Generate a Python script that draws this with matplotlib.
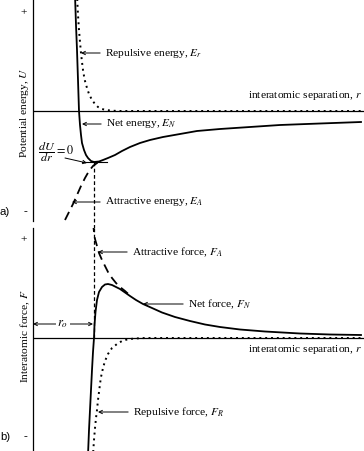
import matplotlib
matplotlib.use("Agg")
import matplotlib.pyplot as plt

plt.rcParams['font.family'] = ['Liberation Serif', 'DejaVu Serif']
plt.rcParams['mathtext.fontset'] = 'stix'

# --- data (arbitrary units) ---
# (a) potential energy vs separation
net_e_r = [4.2, 4.3, 4.4, 4.5, 4.6, 4.7, 4.8, 4.9, 5.1, 5.3, 5.5, 5.8, 6.1, 6.6, 7.0, 7.5, 8.2,
           8.9, 9.7, 10.7, 11.7, 13.0, 14.7, 16.4, 18.7, 21.7, 24.7, 28.7, 32.8]
net_e_u = [11.6, 8.6, 6.1, 3.1, 0.0, -1.4, -2.4, -3.2, -3.9, -4.4, -4.7, -5.0, -5.1, -5.05, -4.9, -4.7, -4.4,
           -4.0, -3.6, -3.2, -2.9, -2.6, -2.3, -2.0, -1.8, -1.6, -1.4, -1.25, -1.1]

rep_e_r = [4.4, 4.5, 4.6, 4.7, 4.8, 4.9, 5.0, 5.1, 5.2, 5.4, 5.6, 5.9, 6.2, 6.5, 6.9, 7.3, 7.9, 8.7, 33.1]
rep_e_u = [11.6, 9.6, 8.1, 6.9, 5.8, 4.9, 4.1, 3.5, 3.0, 2.3, 1.7, 1.1, 0.7, 0.4, 0.2, 0.1, 0.03, 0.0, 0.0]

att_e_r = [3.2, 3.6, 4.0, 4.4, 4.8, 5.2, 5.6, 6.0, 6.4, 6.8]
att_e_u = [-10.9, -10.1, -9.3, -8.4, -7.5, -6.7, -6.0, -5.5, -5.2, -5.05]

# (b) force vs separation
net_f_r = [5.5, 5.6, 5.7, 5.8, 5.9, 6.0, 6.1, 6.15, 6.25, 6.4, 6.6, 6.9, 7.2, 7.5, 7.9, 8.3, 8.7,
           9.2, 9.7, 10.3, 11.0, 11.9, 12.9, 14.2, 15.7, 17.2, 18.7, 20.7, 23.2, 26.7, 29.7, 32.8]
net_f_f = [-11.7, -9.2, -7.2, -5.2, -3.2, -1.4, 0.0, 1.3, 2.6, 3.8, 4.6, 5.1, 5.35, 5.4, 5.3, 5.1, 4.9,
           4.55, 4.2, 3.8, 3.4, 3.0, 2.55, 2.1, 1.7, 1.35, 1.1, 0.85, 0.65, 0.45, 0.35, 0.3]

att_f_r = [6.0, 6.1, 6.2, 6.4, 6.6, 6.9, 7.2, 7.5, 7.9, 8.3, 8.7, 9.2, 9.7]
att_f_f = [11.5, 10.6, 9.9, 9.2, 8.5, 7.8, 7.2, 6.6, 6.0, 5.5, 5.1, 4.7, 4.25]

rep_f_r = [6.0, 6.1, 6.2, 6.3, 6.4, 6.5, 6.6, 6.7, 6.8, 7.0, 7.2, 7.5, 7.9, 8.4, 8.9, 9.5, 10.2, 11.2, 33.1]
rep_f_f = [-11.7, -10.2, -9.0, -8.0, -7.2, -6.2, -5.4, -4.6, -3.9, -3.0, -2.3, -1.6, -1.0, -0.6, -0.3,
           -0.12, -0.05, 0.0, 0.0]

r0 = 6.1
u_min = -5.1

fig = plt.figure(figsize=(3.64, 4.51), dpi=100)
ax1 = fig.add_axes([33 / 364, 230 / 451, 331 / 364, 221 / 451])
ax2 = fig.add_axes([33 / 364, 0, 331 / 364, 223 / 451])

for ax in (ax1, ax2):
    for s in ('top', 'right', 'bottom'):
        ax.spines[s].set_visible(False)
    ax.spines['left'].set_linewidth(0.9)
    ax.set_xticks([])
    ax.set_yticks([])
    ax.set_xlim(0, 33.1)
    ax.axhline(0, color='black', lw=0.9)

ax1.set_ylim(-11.0, 11.1)
ax2.set_ylim(-11.3, 11.0)

fs = 8.2
arr = dict(arrowstyle='->', lw=0.7, color='black', shrinkA=1.5, shrinkB=0, mutation_scale=6)

# ---- a) energy ----
ax1.plot(rep_e_r, rep_e_u, color='black', lw=1.4, ls=(0, (1, 2)))
ax1.plot(att_e_r, att_e_u, color='black', lw=1.3, ls=(0, (5, 3)))
ax1.plot(net_e_r, net_e_u, color='black', lw=1.3)
ax1.plot([4.9, 7.4], [u_min, u_min], color='black', lw=0.8)
ax1.plot([r0, r0], [u_min, -11.7], color='black', lw=0.9, ls=(0, (3, 2)), clip_on=False)

ax1.annotate('Repulsive energy, $E_r$', xy=(4.8, 5.8), xytext=(7.2, 5.8),
             ha='left', va='center', fontsize=fs, arrowprops=arr)
ax1.annotate('Net energy, $E_N$', xy=(4.9, -1.3), xytext=(7.3, -1.3),
             ha='left', va='center', fontsize=fs, arrowprops=arr)
ax1.annotate('Attractive energy, $E_A$', xy=(3.9, -9.1), xytext=(7.2, -9.1),
             ha='left', va='center', fontsize=fs, arrowprops=arr)
ax1.text(0.5, -4.1, r'$\dfrac{dU}{dr}=0$', ha='left', va='center', fontsize=fs + 0.5)
ax1.annotate('', xy=(5.4, -5.2), xytext=(3.2, -4.7),
             arrowprops=dict(arrowstyle='->', lw=0.7, color='black',
                             shrinkA=0, shrinkB=0, mutation_scale=6))
ax1.text(32.9, 1.5, 'interatomic separation, $r$', ha='right', va='center', fontsize=fs)
ax1.text(-0.8, -0.2, 'Potential energy, $U$', rotation=90, ha='center', va='center',
         fontsize=fs, clip_on=False)
ax1.text(-0.9, 9.8, '+', ha='center', va='center', fontsize=fs, clip_on=False)
ax1.text(-0.8, -10.1, '-', ha='center', va='center', fontsize=fs, clip_on=False)
ax1.text(-2.8, -10.1, 'a)', ha='center', va='center', fontsize=fs,
         family='Liberation Sans', clip_on=False)

# ---- b) force ----
ax2.plot(rep_f_r, rep_f_f, color='black', lw=1.4, ls=(0, (1, 2)))
ax2.plot(att_f_r, att_f_f, color='black', lw=1.3, ls=(0, (5, 3)))
ax2.plot(net_f_r, net_f_f, color='black', lw=1.3)
ax2.plot([r0, r0], [11.0, 0], color='black', lw=0.9, ls=(0, (3, 2)))

ax2.annotate('Attractive force, $F_A$', xy=(6.5, 8.6), xytext=(9.9, 8.6),
             ha='left', va='center', fontsize=fs, arrowprops=arr)
ax2.annotate('Net force, $F_N$', xy=(11.0, 3.4), xytext=(15.5, 3.4),
             ha='left', va='center', fontsize=fs, arrowprops=arr)
ax2.annotate('Repulsive force, $F_R$', xy=(6.5, -7.4), xytext=(10.0, -7.4),
             ha='left', va='center', fontsize=fs, arrowprops=arr)
ax2.annotate('', xy=(0, 1.4), xytext=(6.0, 1.4),
             arrowprops=dict(arrowstyle='<->', lw=0.7, color='black',
                             shrinkA=0, shrinkB=0, mutation_scale=6))
ax2.text(3.0, 1.4, '$r_o$', ha='center', va='center', fontsize=fs + 1,
         bbox=dict(fc='white', ec='none', pad=1), zorder=5)
ax2.text(32.9, -1.2, 'interatomic separation, $r$', ha='right', va='center', fontsize=fs)
ax2.text(-0.8, 0.2, 'Interatomic force, $F$', rotation=90, ha='center', va='center',
         fontsize=fs, clip_on=False)
ax2.text(-0.9, 9.8, '+', ha='center', va='center', fontsize=fs, clip_on=False)
ax2.text(-0.8, -9.9, '-', ha='center', va='center', fontsize=fs, clip_on=False)
ax2.text(-2.8, -9.9, 'b)', ha='center', va='center', fontsize=fs,
         family='Liberation Sans', clip_on=False)

fig.savefig('out.png', dpi=100)
